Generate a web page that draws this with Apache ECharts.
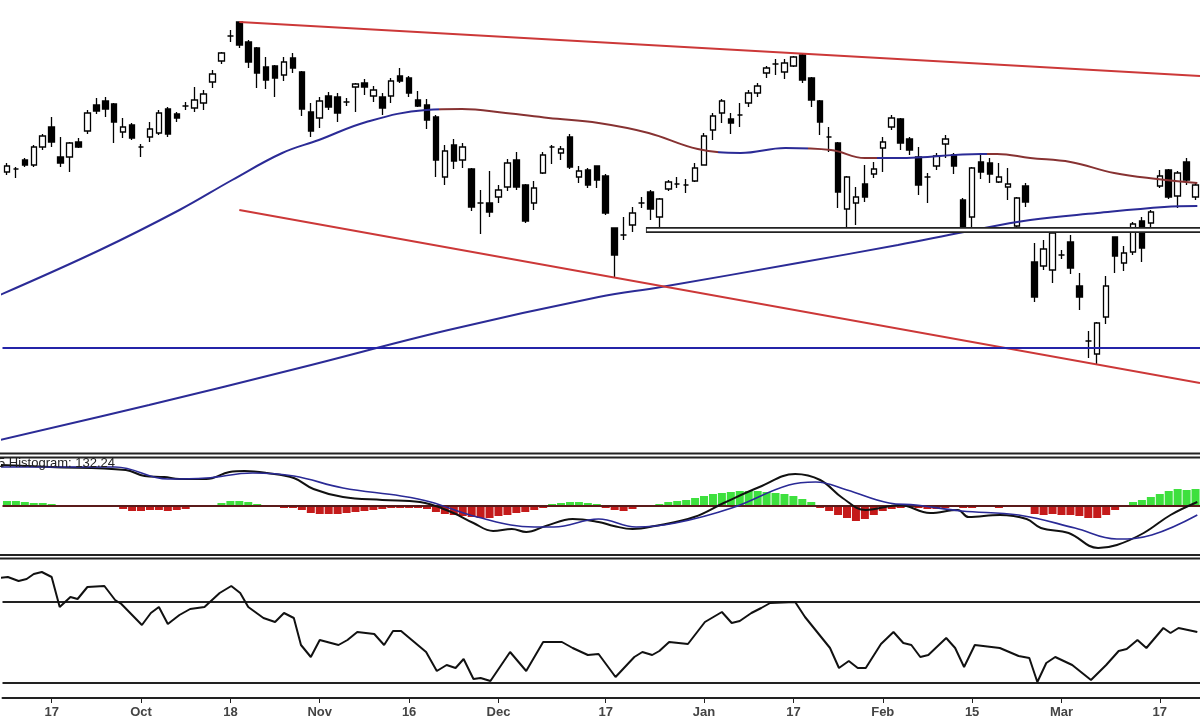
<!DOCTYPE html>
<html><head><meta charset="utf-8">
<script src="https://cdn.jsdelivr.net/npm/echarts@6/dist/echarts.min.js"></script>
<style>html,body{margin:0;background:#fff}#c{width:1200px;height:720px}</style>
</head><body><div id="c"></div>
<script>
// candles: [open, close, low, high] (price units, chart-relative)
const candles = [
[328,334,325,337],[331,331,322,333],[340,335,333,342],[335,353,333,355],[353,364,350,366],
[373,358,353,383],[343,337,333,363],[343,357,328,358],[358,353,352,362],[369,387,366,390],
[395,389,386,402],[399,391,383,403],[396,378,357,397],[368,373,362,382],[375,362,360,377],
[353,353,343,356],[363,371,358,378],[367,387,365,390],[391,366,363,393],[386,382,378,388],
[394,394,390,398],[392,400,388,413],[397,406,390,410],[418,426,412,430],[439,447,436,448],
[464,464,458,470],[478,455,452,478],[458,438,432,460],[452,427,412,453],[433,420,411,443],
[434,422,403,435],[425,438,419,443],[442,432,427,447],[428,391,384,429],[388,369,363,397],
[382,399,372,403],[404,393,390,408],[403,387,378,407],[398,398,394,402],[413,416,388,417],
[417,413,405,421],[404,410,398,414],[403,392,385,407],[404,419,397,422],[424,419,417,432],
[422,407,403,424],[400,394,393,409],[395,380,371,401],[383,340,323,385],[323,349,315,355],
[355,339,331,361],[340,353,332,357],[331,293,289,332],[297,297,266,310],[297,288,283,329],
[303,310,297,315],[313,337,309,341],[340,313,310,348],[315,279,277,316],[297,312,290,319],
[327,345,326,348],[353,353,336,355],[347,351,340,354],[363,333,331,366],[323,329,317,334],
[330,315,312,332],[334,320,312,334],[324,287,285,326],[272,245,222,272],[265,265,260,283],
[275,287,268,293],[297,297,292,303],[308,291,280,310],[283,301,270,302],[311,318,309,320],
[316,316,312,323],[315,315,307,321],[319,332,318,337],[335,364,335,367],[370,384,360,387],
[387,399,377,401],[381,377,366,387],[385,385,373,397],[397,407,393,410],[407,414,403,417],
[427,432,422,434],[436,436,425,441],[428,437,421,441],[434,443,433,444],[445,420,417,446],
[422,400,393,423],[399,378,365,400],[363,363,348,373],[357,308,292,358],[291,323,270,324],
[297,303,275,313],[316,303,298,335],[326,331,322,338],[352,358,328,363],[373,382,370,385],
[381,357,350,382],[361,350,345,363],[343,315,305,353],[323,323,297,327],[334,344,330,347],
[356,361,342,365],[345,334,326,347],[300,270,268,302],[283,332,270,333],[338,328,321,347],
[337,326,317,342],[318,323,317,337],[313,316,300,332],[274,302,272,303],[314,298,293,317],
[238,203,198,257],[234,251,230,260],[230,267,217,270],[245,245,241,250],[258,232,226,265],
[214,203,190,227],[159,159,142,169],[146,177,136,178],[183,214,176,224],[263,244,227,263],
[237,247,229,254],[248,276,245,278],[279,252,238,283],[277,288,272,290],[314,324,312,330],
[330,303,301,331],[304,327,292,329],[338,320,315,342],[303,315,300,318]
];
const categories = candles.map((_, i) => 'd' + i);
const tickIdx = [5,15,25,35,45,55,67,78,88,98,108,118,129];
const tickLabels = ['17','Oct','18','Nov','16','Dec','17','Jan','17','Feb','15','Mar','17'];

// moving averages [index, value]
const maLong = [[-0.8,205],[10.4,250],[19.3,290],[25.2,320],[30.8,347],[34.9,360],[40.2,378],[46.9,390],[50.9,391],[55.8,387],[60.6,382],[66.2,377],[71.8,367],[77.3,351],[82.1,347],[87.1,352],[92.2,350],[96,342],[99.7,342],[109,346],[110.8,346],[114.5,342],[119,338],[123.9,327],[128.7,321],[133.2,317]];
const maLongColors = [{lt:48.3,c:'#2b2b96'},{gte:48.3,lt:79.6,c:'#873232'},{gte:79.6,lt:89.6,c:'#2b2b96'},{gte:89.6,lt:97.4,c:'#873232'},{gte:97.4,lt:109.7,c:'#2b2b96'},{gte:109.7,c:'#873232'}];
const maShort = [[-0.8,60],[15.9,95],[32.7,132],[49.4,170],[66.2,203],[73.2,213],[88.5,237],[99.7,255],[107.1,268],[114.5,280],[122,287],[129.5,293],[133.2,294]];
const channelTop = [[26,478],[133.5,424]];
const channelBottom = [[26,290],[133.5,117]];
const supportLevel = 270, supportStart = 72;
const blueLevel = 152;

// MACD
const macdLine = [[-0.8,41],[4.8,39],[13.3,36],[15.4,30],[17.6,29],[19.3,27],[22.3,27],[24.9,34],[26.6,35],[29.1,33],[32.1,28],[34.3,17],[37.6,9],[42.0,6],[46.2,4],[49.7,-6],[52.2,-17],[54.4,-25],[56.5,-23],[58.1,-26],[60.3,-20],[63.3,-13],[66.2,-16],[67.9,-20],[70.0,-23],[72.5,-20],[76.9,-11],[80.2,3],[84.2,19],[88.2,32],[91.0,26],[93.5,8],[96.1,-4],[99.9,1],[103.3,-7],[106.4,-4],[107.6,-11],[111.1,-9],[114.1,-13],[115.7,-22],[118.8,-27],[122.1,-42],[124.2,-39],[127.2,-27],[130.2,-9],[133.2,4]];
const signalLine = [[-0.8,39],[12.1,39],[18.0,27],[22.3,28],[27.5,33],[32.1,30],[37.6,18],[44.1,10],[47.4,4],[52.6,-11],[59.0,-21],[61.2,-21],[66.2,-13],[70.4,-21],[74.8,-17],[81.1,-2],[87.5,21],[90.5,24],[94.0,16],[98.7,3],[101.7,1],[106.8,-5],[113.2,-9],[119.5,-22],[124.2,-33],[128.1,-29],[133.2,-9]];
const histogram = [5,5,4,3,3,2, 0,0,0,0,0,0,0, -3,-5,-5,-4,-4,-5,-4,-3, -1,0,1, 3,5,5,4,2, -1,-1,-2,-2,
 -4,-7,-8,-8,-8,-7,-6,-5,-4,-3, -2,-2,-2,-2, -3,-6,-8,-9,-10,-11,-12,-12,-10,-9,-7,-6,-4,-2,
 2,3,4,4,3,2, -2,-4,-5,-3,-1,0, 2,4,5,6,8,10,12,13,14,15,15,15,14,13,12,10,7,4,
 -2,-5,-9,-12,-15,-13,-9,-5, -3,-2,-1,-2,-3,-3,-2,-1,-2,-2,-1,-1,-2,-1,-1,-1,
 -8,-9,-8,-9,-9,-10,-12,-12,-9,-4, -1, 4,6,9,12,15,17,16,17];
const histLabel = '5 Histogram: 132.24';

// RSI-like oscillator
const oscLine = [[-0.8,122],[0.1,123],[1.3,119],[2.2,121],[3.0,126],[3.9,128],[5.0,123],[5.9,93],[7.1,103],[7.9,101],[9.0,113],[10.9,114],[12.1,100],[12.8,96],[15.1,75],[16.1,87],[17.0,93],[18.0,76],[19.3,85],[20.5,91],[22.1,93],[23.8,107],[25.1,114],[26.1,107],[27.0,93],[28.7,82],[30.0,78],[31.0,87],[32.1,82],[32.9,55],[34.0,43],[35.0,60],[37.1,55],[38.1,60],[39.2,68],[41.1,66],[42.2,55],[43.2,69],[44.1,69],[45.3,60],[46.9,48],[48.1,29],[49.2,35],[50.2,32],[51.1,41],[52.2,21],[53.0,22],[54.1,19],[56.3,48],[58.1,29],[60.0,58],[62.1,58],[63.3,52],[65.0,45],[66.2,46],[68.1,23],[70.2,43],[71.1,48],[72.2,45],[73.0,49],[74.1,58],[76.2,56],[78.1,78],[80.0,88],[81.1,77],[82.0,79],[83.3,87],[84.4,92],[85.4,97],[88.2,98],[89.3,83],[92.1,52],[93.1,32],[94.2,39],[95.2,32],[96.1,32],[97.8,56],[99.2,68],[100.3,57],[101.2,55],[102.2,43],[103.1,45],[105.1,62],[106.1,52],[107.1,33],[108.3,55],[111.1,52],[113.2,44],[114.4,42],[115.3,18],[116.3,37],[117.3,43],[119.2,35],[121.3,20],[123.0,35],[124.4,49],[125.3,51],[126.5,60],[127.5,52],[129.4,72],[130.2,67],[131.1,72],[133.2,68]];
const oscLevels = [98, 17];

const chart = echarts.init(document.getElementById('c'), null, {renderer:'canvas'});
const L = 2.5, W = 1201;
const grids = [
  {left:L, width:W, top:0, height:452},
  {left:L, width:W, top:459, height:95},
  {left:L, width:W, top:560, height:138}
];
const xAxes = [], yAxes = [];
grids.forEach((g, i) => {
  const isBottom = i === 2;
  xAxes.push({type:'category', gridIndex:i, data:categories, boundaryGap:true,
    axisLine:{show:isBottom, lineStyle:{color:'#222', width:2}},
    axisTick:{show:isBottom, alignWithLabel:true, length:5, lineStyle:{color:'#222'},
      interval:(idx)=>tickIdx.includes(idx)},
    axisLabel:{show:isBottom, interval:(idx)=>tickIdx.includes(idx),
      formatter:(v, idx)=>{const k = tickIdx.indexOf(idx); return k>=0?tickLabels[k]:'';},
      color:'#444', fontFamily:'Liberation Sans', fontWeight:'bold', fontSize:13, margin:8},
    splitLine:{show:false}});
  xAxes.push({type:'value', gridIndex:i, min:-0.5, max:133.5, show:false, splitLine:{show:false}});
});
yAxes.push({type:'value', gridIndex:0, min:48, max:500, show:false, splitLine:{show:false}});
yAxes.push({type:'value', gridIndex:1, min:-48, max:47, show:false, splitLine:{show:false}});
yAxes.push({type:'value', gridIndex:2, min:2, max:140, show:false, splitLine:{show:false}});

const line = (data, xi, yi, color, w, extra) => Object.assign({type:'line', xAxisIndex:xi, yAxisIndex:yi,
  data, showSymbol:false, symbol:'none', smooth:false, lineStyle:color?{color, width:w}:{width:w}, silent:true, animation:false}, extra||{});

const series = [
  line(maShort, 1, 0, '#2b2b96', 2, {smooth:0.4}),
  line(maLong, 1, 0, null, 2, {smooth:0.4}),
  line(channelTop, 1, 0, '#cc3838', 2),
  line(channelBottom, 1, 0, '#cc3838', 2),
  line([[-0.5,blueLevel],[133.5,blueLevel]], 1, 0, '#2424a8', 2),
  line([[supportStart-0.5,supportLevel],[133.5,supportLevel]], 1, 0, '#222', 6),
  line([[supportStart-0.4,supportLevel],[133.5,supportLevel]], 1, 0, '#fff', 2.5),
  {type:'candlestick', xAxisIndex:0, yAxisIndex:0, data:candles, barWidth:6, animation:false,
   itemStyle:{color:'#fff', color0:'#000', borderColor:'#000', borderColor0:'#000', borderWidth:1.3}},
  {type:'bar', xAxisIndex:2, yAxisIndex:1, barWidth:8, animation:false,
   data:histogram.map(v=>({value:v, itemStyle:{color: v>0?'#3ee03e':'#c41a1a'}}))},
  line([[-0.5,0],[133.5,0]], 3, 1, '#5a1a1a', 2),
  line(macdLine, 3, 1, '#111', 2, {smooth:0.4}),
  line(signalLine, 3, 1, '#2a2a96', 1.6, {smooth:0.4}),
  line([[-0.5,oscLevels[0]],[133.5,oscLevels[0]]], 5, 2, '#222', 2),
  line([[-0.5,oscLevels[1]],[133.5,oscLevels[1]]], 5, 2, '#222', 2),
  line(oscLine, 5, 2, '#111', 2)
];

const hline = (y, w) => ({type:'line', shape:{x1:0, y1:y, x2:1200, y2:y}, style:{stroke:'#222', lineWidth:w}, z:100});
chart.setOption({
  animation:false,
  backgroundColor:'#fff',
  grid:grids, xAxis:xAxes, yAxis:yAxes,
  visualMap:[{type:'piecewise', show:false, seriesIndex:1, dimension:0,
    pieces:maLongColors.map(p=>{const o={color:p.c}; if(p.lt!==undefined)o.lt=p.lt; if(p.gte!==undefined)o.gte=p.gte; return o;})}],
  graphic:[hline(453.5,2), hline(457.5,2), hline(555,2), hline(558.5,2),
    {type:'text', left:-2, top:457, z:50, style:{text:histLabel, fill:'#222', font:'13px "Liberation Sans"'}}],
  series
});
</script></body></html>
